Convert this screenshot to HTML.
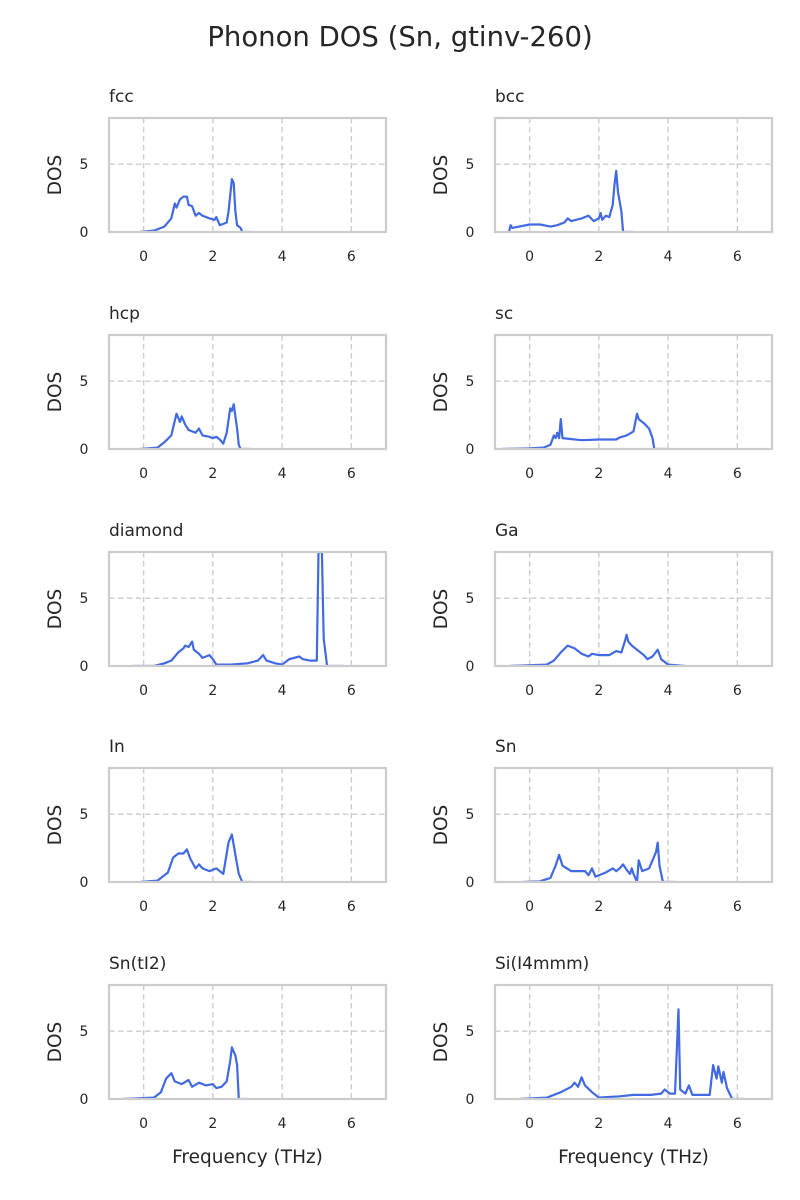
<!DOCTYPE html>
<html><head><meta charset="utf-8"><style>
body{margin:0;background:#fff}
svg{display:block;font-family:"DejaVu Sans","Liberation Sans",sans-serif}
</style></head><body>
<svg id="fig" width="800" height="1200" viewBox="0 0 800 1200">
<text x="400" y="46" text-anchor="middle" font-size="27.5" fill="#262626">Phonon DOS (Sn, gtinv-260)</text>
</svg>
<script>
const panelNames = ["fcc","bcc","hcp","sc","diamond","Ga","In","Sn","Sn(tI2)","Si(I4mmm)"];
const xTicks = [0,2,4,6];
const yTicks = [0,5];
const freqFcc = [-0.1,0.3,0.6,0.8,0.9,0.95,1.05,1.15,1.25,1.3,1.4,1.5,1.6,1.7,1.9,2.05,2.1,2.2,2.3,2.4,2.45,2.55,2.6,2.65,2.7,2.8,2.85,3.1];
const dosFcc  = [0,0.1,0.4,1.0,2.1,1.8,2.4,2.6,2.6,2.0,1.9,1.2,1.4,1.2,1.0,0.9,1.1,0.5,0.6,0.7,1.5,3.9,3.6,1.5,0.5,0.3,0,0];
const freqBcc = [-0.6,-0.55,-0.5,0,0.3,0.6,0.8,1.0,1.1,1.2,1.5,1.7,1.85,2.0,2.05,2.1,2.2,2.3,2.4,2.45,2.5,2.55,2.65,2.7,3.0];
const dosBcc  = [0,0.5,0.3,0.55,0.55,0.4,0.5,0.7,1.0,0.8,1.0,1.2,0.8,1.0,1.4,0.9,1.2,1.1,2.0,3.5,4.5,3.0,1.5,0,0];
const freqHcp = [-0.1,0.4,0.6,0.8,0.95,1.05,1.1,1.2,1.3,1.4,1.5,1.6,1.7,1.9,2.0,2.1,2.2,2.3,2.4,2.5,2.55,2.6,2.7,2.75,2.8,3.1];
const dosHcp  = [0,0.1,0.5,1.0,2.6,2.0,2.4,1.8,1.4,1.3,1.2,1.5,1.0,0.9,0.8,0.9,0.7,0.4,1.2,3.0,2.8,3.3,1.5,0.3,0,0];
const freqSc = [-0.8,0,0.4,0.6,0.7,0.75,0.8,0.85,0.9,0.95,1.5,2.0,2.5,2.6,2.8,3.0,3.1,3.15,3.3,3.45,3.55,3.6,4.0];
const dosSc  = [0,0.05,0.1,0.3,1.0,0.8,1.2,0.8,2.2,0.8,0.65,0.7,0.7,0.85,1.0,1.3,2.6,2.2,1.9,1.5,0.8,0,0];
const freqDia = [-0.35,0.3,0.6,0.8,1.0,1.15,1.2,1.3,1.4,1.45,1.6,1.7,1.9,2.0,2.1,2.5,3.0,3.3,3.45,3.55,3.8,4.0,4.2,4.5,4.6,4.8,5.0,5.05,5.15,5.2,5.3,5.8];
const dosDia  = [0,0,0.2,0.4,1.0,1.3,1.5,1.4,1.8,1.2,0.9,0.6,0.8,0.5,0.1,0.1,0.2,0.4,0.8,0.4,0.2,0.1,0.5,0.7,0.5,0.4,0.4,8.4,8.4,2.0,0,0];
const freqGa = [-0.6,0.5,0.7,0.9,1.1,1.3,1.5,1.7,1.8,2.0,2.3,2.5,2.65,2.75,2.8,2.85,2.95,3.1,3.3,3.4,3.55,3.7,3.8,4.0,4.5];
const dosGa  = [0,0.1,0.4,1.0,1.5,1.3,0.9,0.7,0.9,0.8,0.8,1.1,1.0,1.8,2.3,1.8,1.5,1.2,0.8,0.5,0.7,1.2,0.5,0.1,0];
const freqIn = [-0.1,0.4,0.7,0.85,1.0,1.15,1.25,1.35,1.5,1.6,1.7,1.9,2.1,2.2,2.3,2.45,2.55,2.65,2.75,2.85,3.1];
const dosIn  = [0,0.1,0.7,1.8,2.1,2.1,2.4,1.7,1.0,1.3,1.0,0.8,1.0,0.8,0.6,2.9,3.5,2.0,0.6,0,0];
const freqSn = [-0.2,0.3,0.6,0.75,0.85,0.95,1.2,1.6,1.7,1.8,1.9,2.2,2.4,2.5,2.6,2.7,2.8,2.9,2.95,3.0,3.1,3.15,3.25,3.45,3.65,3.7,3.75,3.85,4.2];
const dosSn  = [0,0.05,0.3,1.2,2.0,1.2,0.8,0.8,0.5,1.0,0.4,0.7,1.0,0.8,1.0,1.3,0.9,0.6,1.0,0.6,0,1.6,0.8,1.0,2.2,2.9,1.2,0,0];
const freqTi2 = [-0.6,0.3,0.5,0.65,0.8,0.9,1.1,1.3,1.4,1.6,1.8,2.0,2.1,2.25,2.4,2.5,2.55,2.65,2.7,2.75,3.0];
const dosTi2  = [0,0.1,0.5,1.5,1.9,1.3,1.1,1.4,0.9,1.2,1.0,1.1,0.8,0.9,1.3,2.8,3.8,3.2,2.5,0,0];
const freqSi = [-0.3,0.5,0.9,1.2,1.3,1.4,1.5,1.6,1.8,1.9,2.0,2.6,3.0,3.5,3.8,3.9,4.05,4.2,4.3,4.35,4.5,4.6,4.7,5.2,5.3,5.4,5.45,5.55,5.6,5.7,5.85,6.2];
const dosSi  = [0,0.1,0.5,0.9,1.2,0.9,1.6,1.0,0.5,0.3,0.1,0.2,0.3,0.3,0.4,0.7,0.4,0.4,6.6,0.7,0.4,1.0,0.3,0.3,2.5,1.5,2.4,1.2,2.0,0.8,0,0];
const freqs = [freqFcc,freqBcc,freqHcp,freqSc,freqDia,freqGa,freqIn,freqSn,freqTi2,freqSi];
const doses = [dosFcc,dosBcc,dosHcp,dosSc,dosDia,dosGa,dosIn,dosSn,dosTi2,dosSi];

const NS="http://www.w3.org/2000/svg";
const svg=document.getElementById('fig');
const colX=[109,495], rowY=[118,335,552,768,985], W=277, H=114;
const xMin=-1,xMax=7,yMin=0,yMax=8.4;
function mk(tag,attrs,parent){const e=document.createElementNS(NS,tag);for(const k in attrs)e.setAttribute(k,attrs[k]);(parent||svg).appendChild(e);return e;}
panelNames.forEach((name,i)=>{
  const c=i%2,r=Math.floor(i/2);
  const x0=colX[c],y0=rowY[r];
  const sx=v=>x0+(v-xMin)/(xMax-xMin)*W;
  const sy=v=>y0+H-(v-yMin)/(yMax-yMin)*H;
  const g=mk('g',{});
  
  
  xTicks.forEach(t=>{
    const l=mk('line',{x1:sx(t),x2:sx(t),y1:y0,y2:y0+H,stroke:'#cccccc','stroke-width':1.4,'stroke-dasharray':'5.5,3.5'},g);
    
    
    const tx=mk('text',{x:sx(t),y:y0+H+29,'text-anchor':'middle','font-size':14,fill:'#262626'},g);
    tx.textContent=t;
    
    
  });
  yTicks.forEach(t=>{
    if(t>0){const l=mk('line',{x1:x0,x2:x0+W,y1:sy(t),y2:sy(t),stroke:'#cccccc','stroke-width':1.4,'stroke-dasharray':'5.5,3.5'},g);
    
    }
    const tx=mk('text',{x:x0-25,y:sy(t)+5,'text-anchor':'middle','font-size':14,fill:'#262626'},g);
    tx.textContent=t;
    
    
  });
  const clipId='clip'+i;
  const cp=mk('clipPath',{id:clipId},g);mk('rect',{x:x0,y:y0,width:W,height:H},cp);
  const pts=freqs[i].map((f,k)=>sx(f).toFixed(1)+','+sy(doses[i][k]).toFixed(1)).join(' ');
  const pl=mk('polyline',{points:pts,fill:'none',stroke:'#4169e1','stroke-width':2.2,'stroke-linejoin':'round','clip-path':'url(#'+clipId+')'},g);
  
  
  const fr=mk('rect',{x:x0,y:y0,width:W,height:H,fill:'none',stroke:'#cccccc','stroke-width':2.2},g);
  
  
  const ti=mk('text',{x:x0,y:y0-16,'font-size':17,fill:'#262626'},g);
  ti.textContent=name;
  
  
  const yl=mk('text',{x:0,y:0,'font-size':18.5,fill:'#262626','text-anchor':'middle',transform:`translate(${x0-48},${y0+H/2}) rotate(-90)`},g);
  yl.textContent='DOS';
  
  
  if(r===4){
    const xl=mk('text',{x:x0+W/2,y:y0+H+64,'text-anchor':'middle','font-size':18.5,fill:'#262626'},g);
    xl.textContent='Frequency (THz)';
    
    
  }
});
</script>
</body></html>
